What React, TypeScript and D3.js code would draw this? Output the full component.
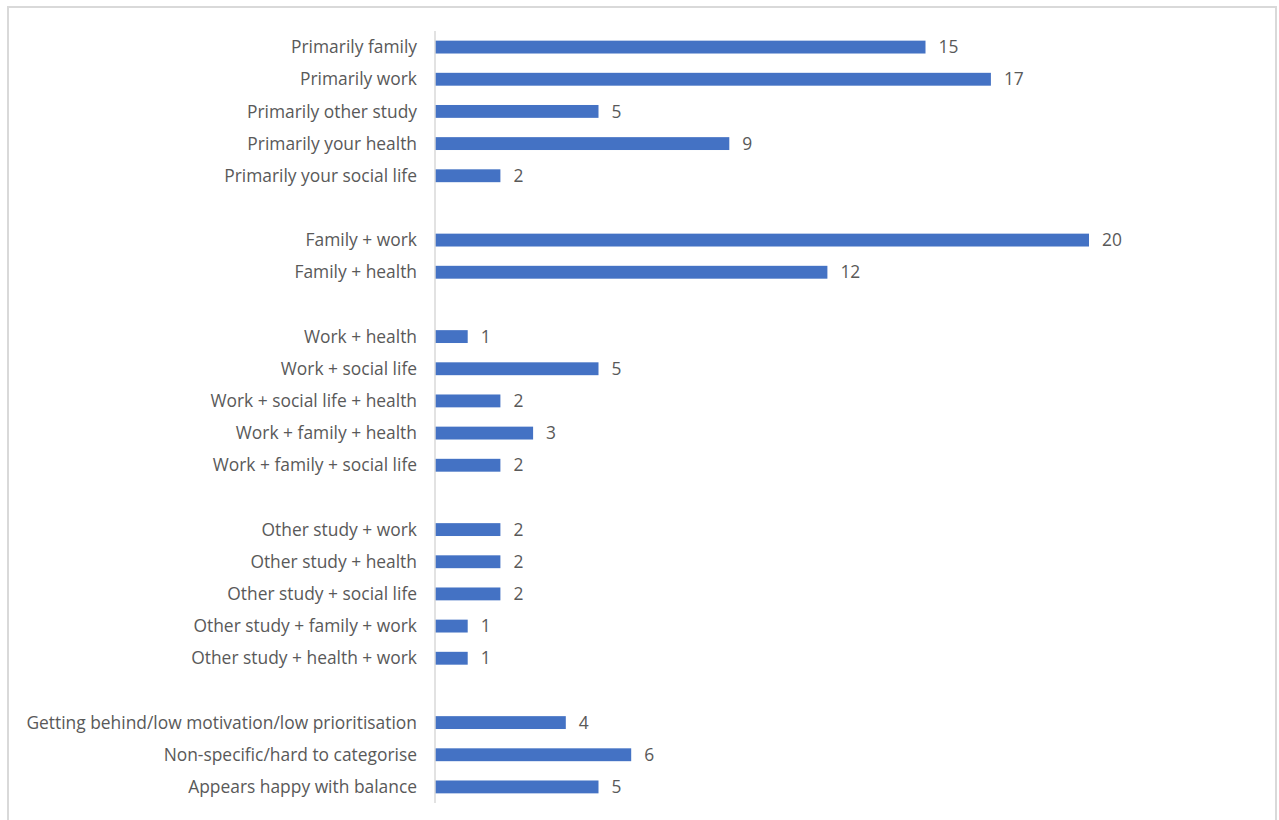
import React from "react";
import * as d3 from "d3";

const categories: string[] = [
  "Primarily family",
  "Primarily work",
  "Primarily other study",
  "Primarily your health",
  "Primarily your social life",
  "",
  "Family + work",
  "Family + health",
  " ",
  "Work + health",
  "Work + social life",
  "Work + social life + health",
  "Work + family + health",
  "Work + family + social life",
  "  ",
  "Other study + work",
  "Other study + health",
  "Other study + social life",
  "Other study + family + work",
  "Other study + health + work",
  "   ",
  "Getting behind/low motivation/low prioritisation",
  "Non-specific/hard to categorise",
  "Appears happy with balance",
];

const values: (number | null)[] = [
  15, 17, 5, 9, 2, null, 20, 12, null, 1, 5, 2, 3, 2, null, 2, 2, 2, 1, 1, null, 4, 6, 5,
];

const W = 1279;
const H = 820;

export default function App() {
  const x = d3.scaleLinear().domain([0, 20]).range([435, 1089]);
  const y = d3
    .scaleBand<string>()
    .domain(categories)
    .range([31, 803])
    .paddingInner(0.6)
    .paddingOuter(0.3);
  const font = "'Open Sans', sans-serif";
  const fs = 17.4;
  return (
    <svg
      width={W}
      height={H}
      style={{ position: "absolute", left: 0, top: 0, background: "#fff" }}
    >
      <rect x={8} y={7} width={1268} height={830} fill="#fff" stroke="#d9d9d9" strokeWidth={2} />
      {categories.map((c, i) => {
        const v = values[i];
        const yy = y(c)!;
        const cy = yy + y.bandwidth() / 2;
        return (
          <g key={i}>
            {c.trim() !== "" && (
              <text
                x={417}
                y={cy}
                dy="0.35em"
                textAnchor="end"
                fontFamily={font}
                fontSize={fs}
                fill="#595959"
              >
                {c}
              </text>
            )}
            {v !== null && (
              <>
                <rect x={x(0)} y={yy} width={x(v) - x(0)} height={y.bandwidth()} fill="#4472c4" />
                <text
                  x={x(v) + 13}
                  y={cy}
                  dy="0.35em"
                  textAnchor="start"
                  fontFamily={font}
                  fontSize={fs}
                  fill="#595959"
                >
                  {v}
                </text>
              </>
            )}
          </g>
        );
      })}
      <line x1={435} x2={435} y1={31} y2={803} stroke="#d9d9d9" strokeWidth={1.5} />
    </svg>
  );
}
